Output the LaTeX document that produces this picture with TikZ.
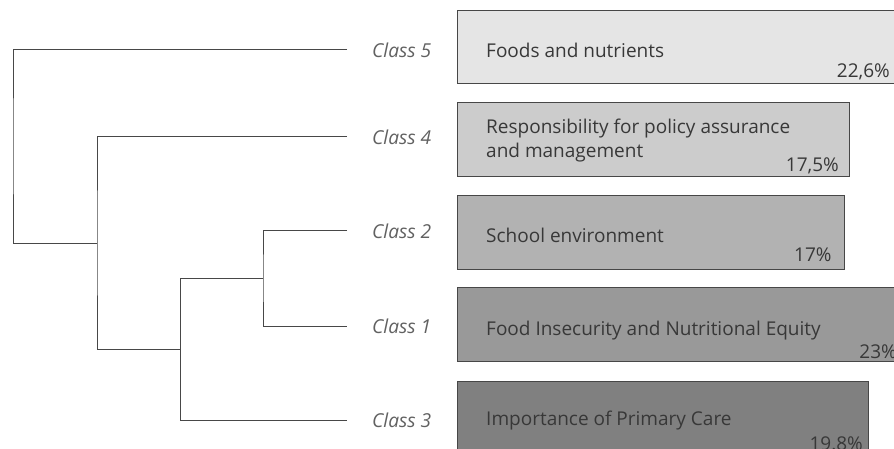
\documentclass[tikz,border=0pt]{standalone}
\usepackage{fontspec}
\setmainfont{Open Sans}
\begin{document}
\begin{tikzpicture}[x=1pt,y=-1pt,
  tree/.style={draw=black!72, line width=1pt},
  bar/.style={draw=black!72, line width=1.1pt, anchor=north west, inner sep=0pt},
  cls/.style={anchor=west, inner sep=0pt, text=black!62, font=\fontsize{19.2}{21}\selectfont\itshape},
  lbl/.style={anchor=base west, inner sep=0pt, text=black!78, align=left, font=\fontsize{19}{23.7}\selectfont},
  pct/.style={anchor=base east, inner sep=0pt, text=black!78, font=\fontsize{19}{21}\selectfont}]
\useasboundingbox (0,0) rectangle (894,449);
\clip (0,0) rectangle (894,449);
% bars
\node[bar, fill=black!10, minimum width=450, minimum height=72.7] (b5) at (456.7,10) {};
\node[bar, fill=black!20, minimum width=392.6, minimum height=73.4] (b4) at (456.7,102.3) {};
\node[bar, fill=black!30, minimum width=387.3, minimum height=74] (b2) at (456.7,195) {};
\node[bar, fill=black!40, minimum width=455, minimum height=73.4] (b1) at (456.7,287.3) {};
\node[bar, fill=black!50, minimum width=411.6, minimum height=80] (b3) at (456.7,380.7) {};
% bar texts
\node[lbl] (t5) at (486,58) {Foods and nutrients};
\node[lbl] (t4) at (486,157.7) {Responsibility for policy assurance\\and management};
\node[lbl] (t2) at (486,243) {School environment};
\node[lbl] (t1) at (486,335) {Food Insecurity and Nutritional Equity};
\node[lbl] (t3) at (486,425) {Importance of Primary Care};
\node[pct] (p5) at (890,78) {22,6\%};
\node[pct] (p4) at (839,171.7) {17,5\%};
\node[pct] (p2) at (831.7,261.7) {17\%};
\node[pct] (p1) at (897,358) {23\%};
\node[pct] (p3) at (863,450) {19.8\%};
% class labels
\node[cls] (c5) at (372,50) {Class 5};
\node[cls] (c4) at (372,137) {Class 4};
\node[cls] (c2) at (372,231) {Class 2};
\node[cls] (c1) at (372,326) {Class 1};
\node[cls] (c3) at (372,420) {Class 3};
% leaf ends
\coordinate (e5) at (347,50);
\coordinate (e4) at (347,137);
\coordinate (e2) at (347,231);
\coordinate (e1) at (347,326);
\coordinate (e3) at (347,420);
% internal nodes
\coordinate (n21) at (263,278);
\coordinate (n213) at (180,349);
\coordinate (n4213) at (97,243);
\coordinate (root) at (13,146);
% dendrogram
\draw[tree] (e2) -| (n21) |- (e1);
\draw[tree] (n21) -- (n21 -| n213);
\draw[tree] (n21 -| n213) -- (n213 |- e3) -- (e3);
\draw[tree] (n213) -- (n213 -| n4213);
\draw[tree] (e4) -| (n4213) |- (n213);
\draw[tree] (n4213) -- (n4213 -| root);
\draw[tree] (e5) -| (root) |- (n4213);
\end{tikzpicture}
\end{document}
